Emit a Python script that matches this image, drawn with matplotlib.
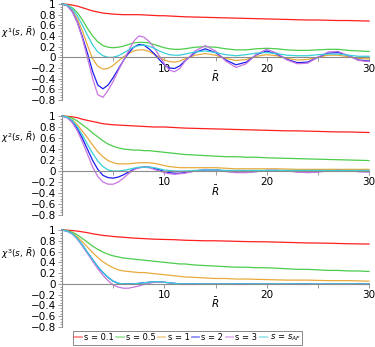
import matplotlib
matplotlib.use("Agg")
import matplotlib.pyplot as plt
from matplotlib.ticker import MultipleLocator, FixedLocator
from matplotlib.lines import Line2D

# R-bar grid (fine near the origin, coarser afterwards)
R = [0, 0.5, 1, 1.5, 2, 2.5, 3, 3.5, 4, 4.5, 5, 5.5, 6, 6.5, 7, 7.5, 8, 8.5,
     9, 9.5, 10, 10.5, 11, 11.5, 12, 13, 14, 15, 16, 17, 18, 19, 20, 21, 22,
     23, 24, 25, 26, 27, 28, 29, 30]

labels = ['s = 0.1', 's = 0.5', 's = 1', 's = 2', 's = 3', r'$s\,=\,s_{AF}$']
colors = ['#ff1f1f', '#4ccd4c', '#e8aa3c', '#1c1cf0', '#c875e0', '#38cfd8']

# chi^1
chi1_s01 = [1, 0.995, 0.98, 0.96, 0.93, 0.90, 0.87, 0.85, 0.83, 0.82, 0.81, 0.805, 0.80,
            0.80, 0.80, 0.80, 0.795, 0.79, 0.785, 0.78, 0.78, 0.775, 0.77, 0.765, 0.76,
            0.755, 0.75, 0.745, 0.74, 0.735, 0.73, 0.725, 0.72, 0.715, 0.71, 0.705, 0.70,
            0.70, 0.695, 0.69, 0.69, 0.685, 0.68]
chi1_s05 = [1, 0.98, 0.93, 0.84, 0.70, 0.54, 0.40, 0.29, 0.22, 0.19, 0.18, 0.19, 0.21,
            0.24, 0.27, 0.28, 0.28, 0.27, 0.24, 0.21, 0.18, 0.16, 0.15, 0.15, 0.16,
            0.19, 0.20, 0.19, 0.16, 0.14, 0.14, 0.16, 0.17, 0.16, 0.14, 0.13, 0.13,
            0.14, 0.15, 0.15, 0.13, 0.12, 0.11]
chi1_s1 = [1, 0.97, 0.88, 0.72, 0.49, 0.22, -0.03, -0.17, -0.22, -0.21, -0.15, -0.07, 0.01,
           0.07, 0.12, 0.14, 0.14, 0.11, 0.06, 0.0, -0.05, -0.08, -0.09, -0.07, -0.03,
           0.04, 0.07, 0.04, -0.02, -0.06, -0.04, 0.02, 0.05, 0.03, -0.02, -0.05, -0.04,
           0.0, 0.04, 0.04, 0.01, -0.02, -0.03]
chi1_s2 = [1, 0.97, 0.86, 0.66, 0.38, 0.07, -0.27, -0.52, -0.59, -0.52, -0.38, -0.22, -0.06,
           0.08, 0.19, 0.24, 0.23, 0.16, 0.07, -0.04, -0.14, -0.20, -0.21, -0.16, -0.07,
           0.09, 0.16, 0.09, -0.05, -0.14, -0.09, 0.05, 0.12, 0.06, -0.04, -0.10, -0.09,
           0.0, 0.08, 0.09, 0.03, -0.05, -0.07]
chi1_s3 = [1, 0.97, 0.86, 0.65, 0.35, -0.02, -0.40, -0.70, -0.75, -0.62, -0.45, -0.25, -0.06,
           0.12, 0.30, 0.40, 0.38, 0.30, 0.18, 0.03, -0.12, -0.24, -0.27, -0.21, -0.08,
           0.12, 0.22, 0.12, -0.07, -0.19, -0.12, 0.06, 0.15, 0.08, -0.05, -0.12, -0.11,
           0.0, 0.10, 0.11, 0.03, -0.06, -0.08]
chi1_saf = [1, 0.98, 0.91, 0.78, 0.60, 0.41, 0.23, 0.10, 0.03, 0.0, 0.0, 0.03, 0.08,
            0.14, 0.19, 0.22, 0.23, 0.21, 0.17, 0.12, 0.08, 0.05, 0.04, 0.04, 0.06,
            0.10, 0.12, 0.09, 0.05, 0.03, 0.05, 0.08, 0.09, 0.07, 0.04, 0.03, 0.03,
            0.05, 0.06, 0.06, 0.04, 0.02, 0.02]

# chi^2
chi2_s01 = [1, 0.995, 0.985, 0.97, 0.94, 0.92, 0.90, 0.88, 0.86, 0.85, 0.84, 0.835, 0.83,
            0.825, 0.82, 0.815, 0.81, 0.805, 0.80, 0.80, 0.80, 0.795, 0.79, 0.785, 0.78,
            0.775, 0.77, 0.765, 0.76, 0.755, 0.75, 0.745, 0.74, 0.735, 0.73, 0.73, 0.725,
            0.72, 0.715, 0.71, 0.71, 0.705, 0.70]
chi2_s05 = [1, 0.99, 0.96, 0.91, 0.84, 0.77, 0.69, 0.62, 0.55, 0.49, 0.45, 0.42, 0.40,
            0.39, 0.38, 0.38, 0.37, 0.37, 0.36, 0.35, 0.34, 0.33, 0.32, 0.31, 0.30,
            0.29, 0.28, 0.27, 0.26, 0.26, 0.25, 0.25, 0.24, 0.235, 0.23, 0.225, 0.22,
            0.215, 0.21, 0.205, 0.20, 0.195, 0.19]
chi2_s1 = [1, 0.98, 0.93, 0.84, 0.72, 0.60, 0.47, 0.35, 0.26, 0.19, 0.15, 0.13, 0.13,
           0.13, 0.14, 0.15, 0.15, 0.15, 0.14, 0.12, 0.10, 0.08, 0.07, 0.06, 0.06,
           0.06, 0.06, 0.06, 0.05, 0.04, 0.04, 0.04, 0.04, 0.04, 0.035, 0.03, 0.03,
           0.03, 0.03, 0.03, 0.03, 0.03, 0.03]
chi2_s2 = [1, 0.97, 0.90, 0.77, 0.59, 0.39, 0.19, 0.03, -0.08, -0.12, -0.13, -0.11, -0.07,
           -0.02, 0.03, 0.06, 0.07, 0.07, 0.05, 0.02, -0.01, -0.03, -0.04, -0.04, -0.03,
           0.0, 0.02, 0.02, 0.0, -0.02, -0.02, -0.01, 0.01, 0.01, 0.0, -0.01, -0.02,
           -0.01, 0.0, 0.01, 0.0, -0.01, -0.01]
chi2_s3 = [1, 0.97, 0.88, 0.73, 0.53, 0.30, 0.07, -0.10, -0.20, -0.24, -0.24, -0.20, -0.13,
           -0.05, 0.02, 0.06, 0.07, 0.06, 0.03, 0.0, -0.03, -0.05, -0.06, -0.05, -0.04,
           0.0, 0.03, 0.02, -0.01, -0.03, -0.03, -0.01, 0.01, 0.01, 0.0, -0.02, -0.03,
           -0.02, 0.0, 0.01, 0.0, -0.01, -0.02]
chi2_saf = [1, 0.98, 0.92, 0.80, 0.65, 0.48, 0.32, 0.18, 0.08, 0.02, 0.0, 0.0, 0.01,
            0.03, 0.05, 0.07, 0.07, 0.07, 0.06, 0.04, 0.02, 0.01, 0.0, 0.0, 0.0,
            0.01, 0.02, 0.02, 0.01, 0.01, 0.01, 0.01, 0.01, 0.01, 0.01, 0.01, 0.01,
            0.01, 0.01, 0.01, 0.01, 0.01, 0.01]

# chi^3
chi3_s01 = [1, 0.998, 0.99, 0.98, 0.965, 0.95, 0.93, 0.915, 0.90, 0.89, 0.88, 0.872, 0.865,
            0.857, 0.85, 0.845, 0.84, 0.835, 0.83, 0.827, 0.825, 0.822, 0.82, 0.815, 0.81,
            0.805, 0.80, 0.80, 0.795, 0.79, 0.785, 0.782, 0.78, 0.775, 0.77, 0.765, 0.76,
            0.758, 0.755, 0.75, 0.745, 0.742, 0.74]
chi3_s05 = [1, 0.99, 0.96, 0.91, 0.84, 0.77, 0.70, 0.64, 0.59, 0.55, 0.52, 0.50, 0.48,
            0.47, 0.46, 0.45, 0.44, 0.43, 0.42, 0.41, 0.40, 0.39, 0.38, 0.37, 0.37,
            0.35, 0.34, 0.33, 0.32, 0.31, 0.31, 0.30, 0.30, 0.29, 0.28, 0.27, 0.27,
            0.26, 0.25, 0.25, 0.24, 0.24, 0.23]
chi3_s1 = [1, 0.98, 0.94, 0.87, 0.78, 0.68, 0.58, 0.49, 0.41, 0.35, 0.30, 0.26, 0.24,
           0.23, 0.22, 0.21, 0.21, 0.20, 0.19, 0.18, 0.17, 0.16, 0.15, 0.14, 0.13,
           0.12, 0.11, 0.10, 0.10, 0.09, 0.09, 0.085, 0.08, 0.075, 0.07, 0.07, 0.07,
           0.065, 0.06, 0.06, 0.06, 0.055, 0.05]
chi3_s2 = [1, 0.98, 0.93, 0.84, 0.72, 0.58, 0.45, 0.32, 0.21, 0.12, 0.05, 0.01, 0.0,
           0.0, 0.0, 0.01, 0.02, 0.03, 0.04, 0.04, 0.03, 0.02, 0.01, 0.0, 0.0,
           0.0, 0.0, 0.0, 0.0, 0.0, 0.0, 0.0, 0.0, 0.0, 0.0, 0.0, 0.0,
           0.0, 0.0, 0.0, 0.0, 0.0, 0.0]
chi3_s3 = [1, 0.98, 0.93, 0.83, 0.70, 0.56, 0.42, 0.28, 0.16, 0.06, -0.02, -0.06, -0.08,
           -0.08, -0.06, -0.04, -0.01, 0.01, 0.03, 0.03, 0.03, 0.02, 0.0, -0.01, -0.01,
           -0.01, 0.0, 0.0, 0.0, -0.01, -0.01, 0.0, 0.0, 0.0, 0.0, -0.01, -0.01,
           0.0, 0.0, 0.0, 0.0, -0.01, -0.01]
chi3_saf = [1, 0.98, 0.93, 0.84, 0.72, 0.58, 0.45, 0.32, 0.21, 0.12, 0.05, 0.01, 0.0,
            0.0, 0.0, 0.01, 0.02, 0.03, 0.04, 0.04, 0.03, 0.02, 0.01, 0.0, 0.0,
            0.0, 0.0, 0.0, 0.0, 0.0, 0.0, 0.0, 0.0, 0.0, 0.0, 0.0, 0.0,
            0.0, 0.0, 0.0, 0.0, 0.0, 0.0]

panels = [
    ('1', [chi1_s01, chi1_s05, chi1_s1, chi1_s2, chi1_s3, chi1_saf]),
    ('2', [chi2_s01, chi2_s05, chi2_s1, chi2_s2, chi2_s3, chi2_saf]),
    ('3', [chi3_s01, chi3_s05, chi3_s1, chi3_s2, chi3_s3, chi3_saf]),
]

W, H = 375, 347
# axes boxes in pixels: (top of y=1, bottom of y=-0.8)
boxes = [(4, 100), (116, 215), (230, 327)]
label_pos = [0.70, 0.78, 0.76]
x0_px, x1_px = 62, 369

fig = plt.figure(figsize=(W / 100, H / 100), dpi=100)
gray = '#8c8c8c'

for (num, series), (top, bot), ly in zip(panels, boxes, label_pos):
    ax = fig.add_axes([x0_px / W, 1 - bot / H, (x1_px - x0_px) / W, (bot - top) / H])
    for y, c in zip(series, colors):
        ax.plot(R, y, color=c, lw=0.9, clip_on=False)
    ax.set_xlim(0, 30)
    ax.set_ylim(-0.8, 1)
    for s in ['top', 'right']:
        ax.spines[s].set_visible(False)
    ax.spines['bottom'].set_position(('data', 0))
    ax.spines['bottom'].set_color(gray)
    ax.spines['left'].set_color(gray)
    ax.spines['bottom'].set_linewidth(0.8)
    ax.spines['left'].set_linewidth(0.8)
    ax.patch.set_visible(False)

    ax.yaxis.set_major_locator(MultipleLocator(0.2))
    ax.yaxis.set_minor_locator(MultipleLocator(0.05))
    ax.set_yticklabels([f"{v:g}".replace('-', '\u2212') for v in ax.get_yticks()])
    ax.xaxis.set_major_locator(FixedLocator([10, 20, 30]))
    ax.xaxis.set_minor_locator(FixedLocator([5, 15, 25]))
    ax.tick_params(axis='both', which='both', colors=gray, labelcolor='black',
                   labelsize=7.5, width=0.6)
    ax.tick_params(axis='y', which='major', length=3, pad=1.5)
    ax.tick_params(axis='y', which='minor', length=1.5)
    ax.tick_params(axis='x', which='major', length=3, pad=1.5)
    ax.tick_params(axis='x', which='minor', length=3)

    ax.text(15, -0.36, r'$\bar{R}$', fontsize=7.5, ha='center', va='center')
    ax.text(-61 / (x1_px - x0_px), ly,
            r'$\chi^{' + num + r'}(s,\,\bar{R})$', fontsize=6.5,
            transform=ax.transAxes, ha='left', va='center')

handles = [Line2D([], [], color=c, lw=1.2, alpha=0.55) for c in colors]
leg = fig.legend(handles, labels, loc='lower center', bbox_to_anchor=(0.5, 0.006),
                 ncol=6, fontsize=6, frameon=True, fancybox=False,
                 handlelength=0.9, handletextpad=0.25, columnspacing=0.3,
                 borderpad=0.2, borderaxespad=0)
leg.get_frame().set_edgecolor('#555555')
leg.get_frame().set_linewidth(0.6)

fig.savefig('out.png', dpi=100)
